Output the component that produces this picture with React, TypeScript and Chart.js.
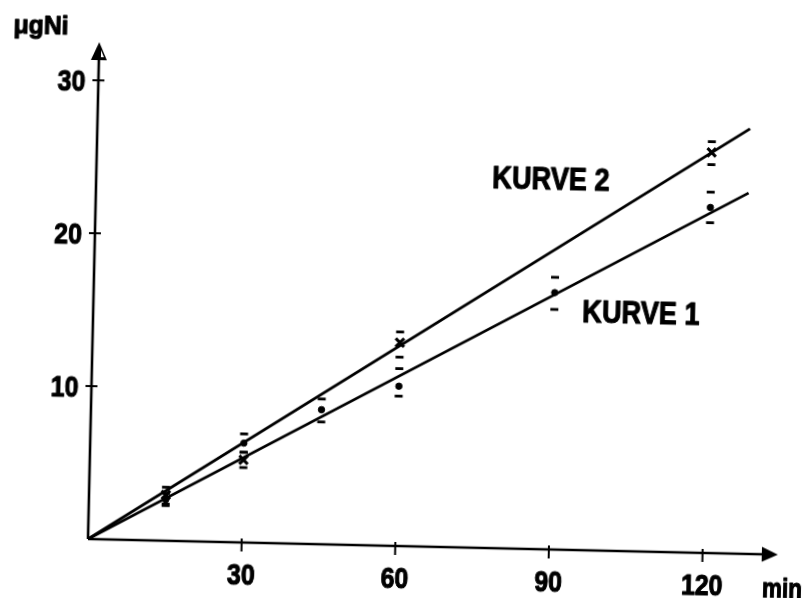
import React, { useEffect, useRef } from "react";
import { Chart, registerables } from "chart.js";

Chart.register(...registerables);

// ---- data ----
const xTicks = [30, 60, 90, 120];
const yTicks = [10, 20, 30];
const xMax = 134.7;
const yMax = 32.5;

// fitted straight lines (from origin to end point)
const fitEndX = 127.4;
const kurve1FitEnd = 23.6;
const kurve2FitEnd = 27.8;

// Kurve 1 measurements (dots)
const kurve1X = [15, 30, 45, 60, 90, 120];
const kurve1Y = [2.7, 6.5, 8.8, 10.45, 16.8, 22.6];
const kurve1Low = [2.3, 5.9, 8.0, 9.8, 15.7, 21.6];
const kurve1High = [3.1, 7.1, 9.5, 11.6, 17.8, 23.6];

// Kurve 2 measurements (crosses)
const kurve2X = [15, 30, 60, 120];
const kurve2Y = [3.0, 5.4, 13.3, 26.2];
const kurve2Low = [2.4, 4.9, 12.35, 25.4];
const kurve2High = [3.5, 5.9, 14.0, 26.9];

const yUnitLabel = "μgNi";
const xUnitLabel = "min";
const kurve1Label = "KURVE 1";
const kurve2Label = "KURVE 2";

const FONT = '"Liberation Sans", Arial, sans-serif';
const SQUEEZE = 0.83;

function condensedText(
  ctx: CanvasRenderingContext2D,
  text: string,
  x: number,
  y: number,
  size: number,
  align: CanvasTextAlign,
  baseline: CanvasTextBaseline,
  sx = SQUEEZE
) {
  ctx.save();
  ctx.font = `bold ${size}px ${FONT}`;
  ctx.textAlign = align;
  ctx.textBaseline = baseline;
  ctx.translate(x, y);
  ctx.scale(sx, 1);
  ctx.fillText(text, 0, 0);
  ctx.lineWidth = 1.1;
  ctx.lineJoin = "round";
  ctx.strokeStyle = "#000";
  ctx.strokeText(text, 0, 0);
  ctx.restore();
}

const axisPlugin = {
  id: "axisArrows",
  afterDatasetsDraw(chart: any) {
    const ctx = chart.ctx;
    const { left, right, top, bottom } = chart.chartArea;
    const xs = chart.scales.x;
    const ys = chart.scales.y;
    ctx.save();
    ctx.strokeStyle = "#000";
    ctx.fillStyle = "#000";
    ctx.lineWidth = 2.8;
    ctx.lineCap = "butt";

    // error bar dashes
    const dash = (xv: number, yv: number) => {
      const px = xs.getPixelForValue(xv);
      const py = ys.getPixelForValue(yv);
      ctx.beginPath();
      ctx.moveTo(px - 4, py);
      ctx.lineTo(px + 4, py);
      ctx.stroke();
    };
    kurve1X.forEach((xv, i) => {
      dash(xv, kurve1Low[i]);
      dash(xv, kurve1High[i]);
    });
    kurve2X.forEach((xv, i) => {
      dash(xv, kurve2Low[i]);
      dash(xv, kurve2High[i]);
    });

    // axes
    ctx.lineWidth = 2.6;
    ctx.beginPath();
    ctx.moveTo(left, bottom);
    ctx.lineTo(right - 12, bottom);
    ctx.moveTo(left, bottom);
    ctx.lineTo(left, top + 12);
    ctx.stroke();

    // arrow heads
    ctx.beginPath();
    ctx.moveTo(right, bottom);
    ctx.lineTo(right - 16, bottom - 7.5);
    ctx.lineTo(right - 16, bottom + 7.5);
    ctx.closePath();
    ctx.fill();
    ctx.beginPath();
    ctx.moveTo(left, top);
    ctx.lineTo(left - 8, top + 18);
    ctx.lineTo(left + 8, top + 18);
    ctx.closePath();
    ctx.fill();
    ctx.fillStyle = "#fff";
    ctx.beginPath();
    ctx.moveTo(left + 2, top + 8);
    ctx.lineTo(left + 2, top + 15);
    ctx.lineTo(left + 5, top + 15);
    ctx.closePath();
    ctx.fill();
    ctx.fillStyle = "#000";

    // tick crosses and tick labels
    ctx.lineWidth = 2;
    xTicks.forEach((v) => {
      const px = xs.getPixelForValue(v);
      ctx.beginPath();
      ctx.moveTo(px, bottom - 4);
      ctx.lineTo(px, bottom + 9);
      ctx.stroke();
      condensedText(ctx, String(v), px, bottom + 42, 30, "center", "alphabetic");
    });
    yTicks.forEach((v) => {
      const py = ys.getPixelForValue(v);
      ctx.beginPath();
      ctx.moveTo(left - 6, py);
      ctx.lineTo(left + 6, py);
      ctx.stroke();
      condensedText(ctx, String(v), left - 13, py + 11, 30, "right", "alphabetic");
    });

    // texts
    condensedText(ctx, yUnitLabel, 2, 35, 26, "left", "alphabetic", 0.95);
    condensedText(ctx, xUnitLabel, 763, 582, 27, "left", "alphabetic");
    condensedText(ctx, kurve2Label, 484, 179, 32, "left", "alphabetic", 0.85);
    condensedText(ctx, kurve1Label, 577, 311, 32, "left", "alphabetic", 0.85);
    ctx.restore();
  },
};

export default function App() {
  const canvasRef = useRef<HTMLCanvasElement | null>(null);

  useEffect(() => {
    const canvas = canvasRef.current;
    if (!canvas) return;
    const chart = new Chart(canvas, {
      type: "scatter",
      data: {
        datasets: [
          {
            type: "line",
            label: "Kurve 2 Gerade",
            data: [
              { x: 0, y: 0 },
              { x: fitEndX, y: kurve2FitEnd },
            ],
            borderColor: "#000",
            borderWidth: 2.8,
            pointRadius: 0,
            fill: false,
          },
          {
            type: "line",
            label: "Kurve 1 Gerade",
            data: [
              { x: 0, y: 0 },
              { x: fitEndX, y: kurve1FitEnd },
            ],
            borderColor: "#000",
            borderWidth: 2.8,
            pointRadius: 0,
            fill: false,
          },
          {
            type: "scatter",
            label: "Kurve 2",
            data: kurve2X.map((x, i) => ({ x, y: kurve2Y[i] })),
            pointStyle: "crossRot",
            pointRadius: 6,
            borderWidth: 3,
            borderColor: "#000",
            backgroundColor: "#000",
          },
          {
            type: "scatter",
            label: "Kurve 1",
            data: kurve1X.map((x, i) => ({ x, y: kurve1Y[i] })),
            pointStyle: "circle",
            pointRadius: 3.2,
            borderWidth: 1,
            borderColor: "#000",
            backgroundColor: "#000",
          },
        ],
      },
      options: {
        responsive: false,
        animation: false,
        devicePixelRatio: 1,
        layout: { padding: { top: 42, right: 28, left: 0, bottom: 0 } },
        plugins: { legend: { display: false }, tooltip: { enabled: false } },
        scales: {
          x: {
            type: "linear",
            min: 0,
            max: xMax,
            grid: { display: false, drawTicks: false },
            border: { display: false },
            afterBuildTicks: (s: any) => {
              s.ticks = xTicks.map((v) => ({ value: v }));
            },
            afterFit: (s: any) => {
              s.height = 59;
            },
            ticks: { display: false },
          },
          y: {
            type: "linear",
            min: 0,
            max: yMax,
            grid: { display: false, drawTicks: false },
            border: { display: false },
            afterBuildTicks: (s: any) => {
              s.ticks = yTicks.map((v) => ({ value: v }));
            },
            afterFit: (s: any) => {
              s.width = 88;
            },
            ticks: { display: false },
          },
        },
      },
      plugins: [axisPlugin],
    } as any);
    return () => chart.destroy();
  }, []);

  return (
    <div
      style={{
        position: "fixed",
        left: 0,
        top: 0,
        width: 806,
        height: 598,
        background: "#fff",
        overflow: "hidden",
      }}
    >
      <canvas
        ref={canvasRef}
        width={806}
        height={598}
        style={{
          position: "absolute",
          left: 0,
          top: 0,
          width: 806,
          height: 598,
          transformOrigin: "88px 539px",
          transform: "rotate(1.3deg)",
        }}
      />
    </div>
  );
}
